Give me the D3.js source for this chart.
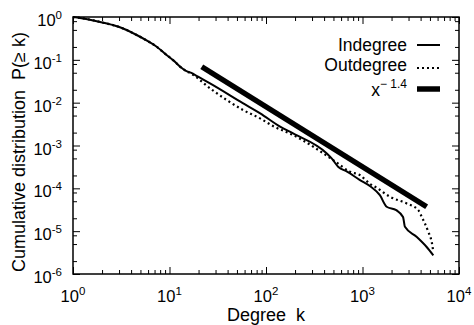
<!DOCTYPE html>
<html>
<head>
<meta charset="utf-8">
<script src="https://cdn.jsdelivr.net/npm/d3@7"></script>
<style>
body { margin: 0; background: #fff; }
text { font-family: "Liberation Sans", Arial, sans-serif; fill: #000; }
</style>
</head>
<body>
<div id="chartArea"></div>
<script>
// degree k / P(>=k)
var inK = [1, 1.41, 2.06, 3.16, 4.57, 6.03, 7.36, 8.91, 11.2, 13.2, 14.8, 16.6, 20.0, 26.3, 57.5, 87.1,
    140, 191, 427, 479, 562, 692, 933, 1202, 1514, 1778, 2239, 2630, 2754, 3631, 4624, 5420];
var inP = [1, 0.891, 0.736, 0.562, 0.380, 0.269, 0.202, 0.141, 0.0933, 0.0661, 0.0550, 0.0501, 0.0398, 0.0282, 0.00977, 0.00562,
    0.00275, 0.00191, 6.53e-4, 5.01e-4, 3.16e-4, 2.45e-4, 1.58e-4, 1.12e-4, 6.92e-5, 3.72e-5, 3.09e-5, 2.14e-5, 1.26e-5, 7.41e-6, 4.27e-6, 2.72e-6];

var outK = [1, 1.41, 2.06, 3.16, 4.57, 6.03, 7.36, 8.91, 11.2, 13.2, 14.8, 16.6, 26.3, 58.1, 86.7, 119,
    192, 498, 741, 942, 1202, 1413, 1928, 2871, 3784, 4111, 4808, 5212, 5420];
var outP = [1, 0.891, 0.736, 0.562, 0.380, 0.269, 0.202, 0.141, 0.0933, 0.0661, 0.0550, 0.0483, 0.0216, 0.00671, 0.00430, 0.00282,
    0.00175, 4.56e-4, 2.45e-4, 2.03e-4, 1.26e-4, 1.02e-4, 6.34e-5, 4.44e-5, 3.10e-5, 2.16e-5, 9.64e-6, 5.62e-6, 3.28e-6];

// x^-1.4 guide line, two ends
var fitK = [21.6, 4620];
var fitP = [0.069, 3.72e-5];

var xTickExp = [0, 1, 2, 3, 4];
var yTickExp = [0, -1, -2, -3, -4, -5, -6];
var legendNames = ["Indegree", "Outdegree"];

//画布
var width = 474;
var height = 325;
var padding = {top: 17, right: 15, bottom: 51, left: 73};
var svg = d3.select("#chartArea")
    .append("svg")
    .attr("width", width)
    .attr("height", height);

//比例尺
var xScale = d3.scaleLog()
    .domain([1, 1e4])
    .range([padding.left, width - padding.right]);
var yScale = d3.scaleLog()
    .domain([1e-6, 1])
    .range([height - padding.bottom, padding.top]);

var x0 = padding.left, x1 = width - padding.right;
var y0 = height - padding.bottom, y1 = padding.top;

//minor ticks
var xMinor = [];
for (var e = 0; e < 4; e++) {
    for (var m = 2; m <= 9; m++) xMinor.push(m * Math.pow(10, e));
}
var yMinor = [];
for (var e2 = -6; e2 < 0; e2++) {
    [2, 5, 8].forEach(function (m) { yMinor.push(m * Math.pow(10, e2)); });
}
var xMajor = xTickExp.map(function (d) { return Math.pow(10, d); });
var yMajor = yTickExp.map(function (d) { return Math.pow(10, d); });

//坐标轴 (ticks pointing inwards, mirrored on top/right)
function axisG(axis, tx, ty) {
    var g = svg.append("g")
        .attr("transform", "translate(" + tx + "," + ty + ")")
        .call(axis);
    g.select(".domain").remove();
    g.selectAll("line").attr("stroke", "#000").attr("stroke-width", 1);
    return g;
}
axisG(d3.axisBottom(xScale).tickValues(xMajor).tickSize(-7).tickFormat(""), 0, y0);
axisG(d3.axisBottom(xScale).tickValues(xMinor).tickSize(-4).tickFormat(""), 0, y0);
axisG(d3.axisTop(xScale).tickValues(xMajor).tickSize(-7).tickFormat(""), 0, y1);
axisG(d3.axisTop(xScale).tickValues(xMinor).tickSize(-4).tickFormat(""), 0, y1);
axisG(d3.axisLeft(yScale).tickValues(yMajor).tickSize(-7).tickFormat(""), x0, 0);
axisG(d3.axisLeft(yScale).tickValues(yMinor).tickSize(-4).tickFormat(""), x0, 0);
axisG(d3.axisRight(yScale).tickValues(yMajor).tickSize(-7).tickFormat(""), x1, 0);
axisG(d3.axisRight(yScale).tickValues(yMinor).tickSize(-4).tickFormat(""), x1, 0);

//frame
svg.append("rect")
    .attr("x", x0).attr("y", y1)
    .attr("width", x1 - x0).attr("height", y0 - y1)
    .attr("fill", "none")
    .attr("stroke", "#000")
    .attr("stroke-width", 1.5);

//tick labels 10^n
var xl = svg.append("g").selectAll("text")
    .data(xTickExp)
    .enter().append("text")
    .attr("x", function (d) { return xScale(Math.pow(10, d)); })
    .attr("y", y0 + 28)
    .attr("text-anchor", "middle")
    .style("font-size", "16.5px");
xl.append("tspan").text("10");
xl.append("tspan").attr("dy", "-7").style("font-size", "11.5px").text(function (d) { return d; });

var yl = svg.append("g").selectAll("text")
    .data(yTickExp)
    .enter().append("text")
    .attr("x", x0 - 11)
    .attr("y", function (d) { return yScale(Math.pow(10, d)) + 9; })
    .attr("text-anchor", "end")
    .style("font-size", "16.5px");
yl.append("tspan").text("10");
yl.append("tspan").attr("dy", "-7").style("font-size", "11.5px").text(function (d) { return d; });

//axis titles
svg.append("text")
    .attr("x", (x0 + x1) / 2)
    .attr("y", 321)
    .attr("text-anchor", "middle")
    .style("font-size", "18px")
    .style("white-space", "pre")
    .text("Degree  k");
svg.append("text")
    .attr("transform", "translate(25,152) rotate(-90)")
    .attr("text-anchor", "middle")
    .style("font-size", "18px")
    .style("white-space", "pre")
    .text("Cumulative distribution  P(\u2265 k)");

//curves
var line = d3.line()
    .curve(d3.curveMonotoneX)
    .x(function (d) { return xScale(d[0]); })
    .y(function (d) { return yScale(d[1]); });

svg.append("path")
    .datum(fitK.map(function (k, i) { return [k, fitP[i]]; }))
    .attr("d", line)
    .attr("fill", "none")
    .attr("stroke", "#000")
    .attr("stroke-width", 5.5);

svg.append("path")
    .datum(outK.map(function (k, i) { return [k, outP[i]]; }))
    .attr("d", line)
    .attr("fill", "none")
    .attr("stroke", "#000")
    .attr("stroke-width", 2.2)
    .attr("stroke-dasharray", "2,3");

svg.append("path")
    .datum(inK.map(function (k, i) { return [k, inP[i]]; }))
    .attr("d", line)
    .attr("fill", "none")
    .attr("stroke", "#000")
    .attr("stroke-width", 2)
    .attr("stroke-linejoin", "round");

//legend
var lgX = 407;
svg.append("text").attr("x", lgX).attr("y", 51).attr("text-anchor", "end")
    .style("font-size", "17.5px").text(legendNames[0]);
svg.append("text").attr("x", lgX).attr("y", 71).attr("text-anchor", "end")
    .style("font-size", "17.5px").text(legendNames[1]);
var pw = svg.append("text").attr("x", lgX).attr("y", 96).attr("text-anchor", "end")
    .style("font-size", "17.5px");
pw.append("tspan").text("x");
pw.append("tspan").attr("dy", "-8").style("font-size", "12px").text("\u2212 1.4");

svg.append("line").attr("x1", 417).attr("x2", 440).attr("y1", 45).attr("y2", 45)
    .attr("stroke", "#000").attr("stroke-width", 2);
svg.append("line").attr("x1", 417).attr("x2", 440).attr("y1", 68).attr("y2", 68)
    .attr("stroke", "#000").attr("stroke-width", 2.2).attr("stroke-dasharray", "2,3");
svg.append("line").attr("x1", 417).attr("x2", 440).attr("y1", 89).attr("y2", 89)
    .attr("stroke", "#000").attr("stroke-width", 5.5);
</script>
</body>
</html>
